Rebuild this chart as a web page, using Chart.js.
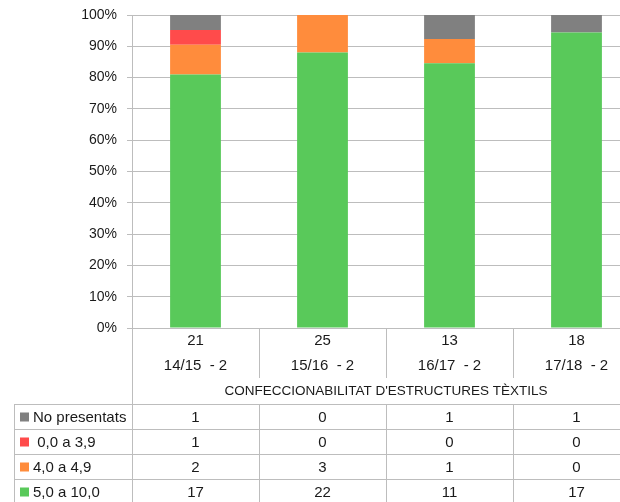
<!DOCTYPE html>
<html>
<head>
<meta charset="utf-8">
<script src="https://cdn.jsdelivr.net/npm/chart.js@4/dist/chart.umd.min.js"></script>
<style>
  html, body { margin: 0; padding: 0; background: #fff; overflow: hidden; }
  #wrap { width: 645px; height: 502px; }
</style>
</head>
<body>
<div id="wrap"><canvas id="notesChart" width="645" height="502"></canvas></div>
<script>
// data
const seasons = ['14/15  - 2', '15/16  - 2', '16/17  - 2', '17/18  - 2'];
const subjectTitle = "CONFECCIONABILITAT D'ESTRUCTURES TÈXTILS";
const seriesNames = ['No presentats', ' 0,0 a 3,9', '4,0 a 4,9', '5,0 a 10,0'];
const noPresentats = [1, 0, 1, 1];
const suspesos = [1, 0, 0, 0];
const notes4 = [2, 3, 1, 0];
const aprovats = [17, 22, 11, 17];
const seriesColors = ['#808080', '#ff4b4b', '#ff8c3c', '#59c95a'];

const seriesValues = [noPresentats, suspesos, notes4, aprovats];
const totals = seasons.map((s, i) => seriesValues.reduce((a, arr) => a + arr[i], 0));
const pct = arr => arr.map((v, i) => v / totals[i] * 100);

const FONT = '"Liberation Sans", Arial, sans-serif';
const TEXT = '#1a1a1a';
const LINE = '#bdbdbd';

// draws category labels + data table under the plot
const tablePlugin = {
  id: 'dataTable',
  afterDraw(chart) {
    const c = chart.ctx;
    const x = chart.scales.x;
    const area = chart.chartArea;
    const half = (x.getPixelForValue(1) - x.getPixelForValue(0)) / 2;
    const left = area.left, right = area.right, base = area.bottom;
    const tableTop = 404, rowH = 25, tableLeft = 14;

    c.save();
    c.strokeStyle = LINE;
    c.lineWidth = 1;
    c.beginPath();
    // axis continues down
    c.moveTo(left + 0.5, base); c.lineTo(left + 0.5, 502);
    // category dividers
    for (let i = 0; i < seasons.length - 1; i++) {
      const bx = Math.round(x.getPixelForValue(i) + half) + 0.5;
      c.moveTo(bx, base); c.lineTo(bx, 378);
      c.moveTo(bx, tableTop); c.lineTo(bx, 502);
    }
    // table rows
    for (let r = 0; r < 4; r++) {
      const y = tableTop + r * rowH + 0.5;
      c.moveTo(tableLeft, y); c.lineTo(right, y);
    }
    c.moveTo(tableLeft + 0.5, tableTop); c.lineTo(tableLeft + 0.5, 502);
    c.stroke();

    c.fillStyle = TEXT;
    c.font = '15px ' + FONT;
    c.textAlign = 'center';
    c.textBaseline = 'middle';
    seasons.forEach((s, i) => {
      const cx = x.getPixelForValue(i);
      c.fillText(String(totals[i]), cx, 341);
      c.fillText(s, cx, 366);
    });
    c.font = '13.5px ' + FONT;
    c.fillText(subjectTitle, (left + right) / 2, 391);

    c.font = '15px ' + FONT;
    seriesNames.forEach((name, r) => {
      const cy = tableTop + r * rowH + rowH / 2;
      c.fillStyle = seriesColors[r];
      c.fillRect(20, cy - 4, 9, 9);
      c.fillStyle = TEXT;
      c.textAlign = 'left';
      c.fillText(name, 33, cy + 1);
      c.textAlign = 'center';
      seriesValues[r].forEach((v, i) => {
        c.fillText(String(v), x.getPixelForValue(i), cy + 1);
      });
    });
    c.restore();
  }
};

const ctx = document.getElementById('notesChart').getContext('2d');
// stacked from the bottom: green first, grey on top
const order = [3, 2, 1, 0];
new Chart(ctx, {
  type: 'bar',
  data: {
    labels: seasons,
    datasets: order.map(k => ({
      label: seriesNames[k],
      data: pct(seriesValues[k]),
      backgroundColor: seriesColors[k],
      borderWidth: 0,
      barPercentage: 0.4,
      categoryPercentage: 1
    }))
  },
  options: {
    responsive: false,
    animation: false,
    layout: { padding: { top: 15, bottom: 174, left: 0, right: 5 } },
    plugins: { legend: { display: false }, tooltip: { enabled: false } },
    scales: {
      x: { stacked: true, display: false },
      y: {
        stacked: true,
        min: 0,
        max: 100,
        afterFit(scale) { scale.width = 132; },
        ticks: {
          stepSize: 10,
          padding: 10,
          color: TEXT,
          font: { family: FONT, size: 14, lineHeight: 0.5 },
          callback: v => v + '%'
        },
        grid: { color: LINE, tickLength: 5 },
        border: { color: LINE }
      }
    }
  },
  plugins: [tablePlugin]
});
</script>
</body>
</html>
